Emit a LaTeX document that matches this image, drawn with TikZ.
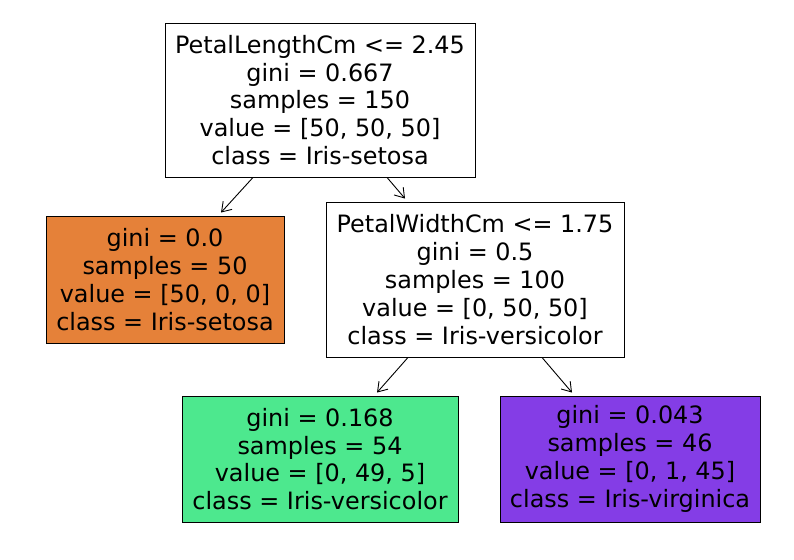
\documentclass[tikz,border=0pt]{standalone}
\usepackage{fontspec}
\setmainfont{DejaVu Sans}
\usetikzlibrary{arrows.meta}
\definecolor{setosa}{HTML}{E58139}
\definecolor{versicolor}{HTML}{4DE88E}
\definecolor{virginica}{HTML}{843DE6}
\tikzset{
	treebox/.style={draw=black, line width=0.9pt, align=center, inner sep=0pt,
		font=\fontsize{23.9}{27.8}\selectfont},
	treearrow/.style={-{Straight Barb[length=9pt, width=12pt, line width=0.9pt]}, line width=0.9pt}
}

\begin{document}
\begin{tikzpicture}[x=1pt, y=-1pt]
			%%%%% START %%%%%
			
			\useasboundingbox[fill=white] (0, 0) rectangle (794, 559);
			
			\node[treebox, fill=white, minimum width=310, minimum height=154] (root) at (320, 100)
				{PetalLengthCm <= 2.45\\gini = 0.667\\samples = 150\\value = [50, 50, 50]\\class = Iris-setosa};
			
			\node[treebox, fill=setosa, minimum width=238, minimum height=127] (setosa) at (165, 279.5)
				{gini = 0.0\\samples = 50\\value = [50, 0, 0]\\class = Iris-setosa};
			
			\node[treebox, fill=white, minimum width=298, minimum height=155] (width) at (475, 279.5)
				{PetalWidthCm <= 1.75\\gini = 0.5\\samples = 100\\value = [0, 50, 50]\\class = Iris-versicolor};
			
			\node[treebox, fill=versicolor, minimum width=276, minimum height=126] (versicolor) at (320, 459)
				{gini = 0.168\\samples = 54\\value = [0, 49, 5]\\class = Iris-versicolor};
			
			\node[treebox, fill=virginica, minimum width=260, minimum height=126] (virginica) at (630, 459)
				{gini = 0.043\\samples = 46\\value = [0, 1, 45]\\class = Iris-virginica};
			
			\draw[treearrow] ([xshift=-67]root.south) -- ([xshift=56, yshift=3]setosa.north);
			\draw[treearrow] ([xshift=67]root.south) -- ([xshift=-70, yshift=3]width.north);
			\draw[treearrow] ([xshift=-67]width.south) -- ([xshift=57, yshift=3]versicolor.north);
			\draw[treearrow] ([xshift=67]width.south) -- ([xshift=-58, yshift=3]virginica.north);
			
			%%%%% END %%%%%
		\end{tikzpicture}
\end{document}
